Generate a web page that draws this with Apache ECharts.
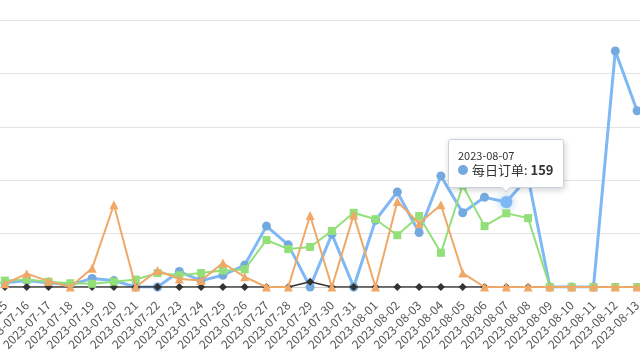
<!DOCTYPE html>
<html>
<head>
<meta charset="utf-8">
<script src="https://cdn.jsdelivr.net/npm/echarts@6/dist/echarts.min.js"></script>
<style>
html,body{margin:0;padding:0;background:#fff;}
#main{width:640px;height:360px;}
</style>
</head>
<body>
<div id="main"></div>
<script>
var categories = ['2023-07-15','2023-07-16','2023-07-17','2023-07-18','2023-07-19','2023-07-20','2023-07-21','2023-07-22','2023-07-23','2023-07-24','2023-07-25','2023-07-26','2023-07-27','2023-07-28','2023-07-29','2023-07-30','2023-07-31','2023-08-01','2023-08-02','2023-08-03','2023-08-04','2023-08-05','2023-08-06','2023-08-07','2023-08-08','2023-08-09','2023-08-10','2023-08-11','2023-08-12','2023-08-13'];
var dailyOrders = [8,12,8,4,16,12,0,0,29,12,22,41,114,79,0,99,0,125,178,102,208,139,168,159,205,0,0,0,442,330];
var seriesGreen = [12,14,10,7,6,10,14,26,22,26,31,33,88,71,75,105,139,127,97,133,64,190,114,138,129,0,0,0,0,0];
var seriesOrange = [6,25,11,0,35,154,0,31,15,12,45,19,0,0,134,0,135,0,160,119,154,26,0,0,0,0,0,0,0,0];
var seriesBlack = [0,0,0,0,0,0,0,0,0,0,0,0,0,0,10,0,0,0,0,0,0,0,0,0,0,0,0,0,0,0];
var yTicks = [0,100,200,300,400,500];

var chart = echarts.init(document.getElementById('main'));
var font = "'Noto Sans CJK SC', 'Noto Sans', sans-serif";
chart.setOption({
  animation: false,
  textStyle: {fontFamily: font},
  grid: {left: -6, right: -8, top: 20, bottom: 73, containLabel: false, outerBoundsMode: 'none'},
  tooltip: {
    trigger: 'item',
    position: 'top',
    backgroundColor: 'rgba(255,255,255,0.96)',
    borderColor: '#c9d3de',
    borderWidth: 1,
    padding: [8, 9, 9, 9],
    extraCssText: 'box-shadow:1px 2px 6px rgba(0,0,0,0.18);border-radius:3px;',
    formatter: function (p) {
      return '<div style="font-size:11px;line-height:14px;color:#333;font-family:' + font.replace(/'/g, '') + '">' + p.name + '</div>' +
        '<div style="font-size:13px;line-height:16px;color:#333;font-family:' + font.replace(/'/g, '') + '">' + p.marker + p.seriesName + ': <b>' + p.value + '</b></div>';
    }
  },
  xAxis: {
    type: 'category',
    data: categories,
    boundaryGap: true,
    axisLine: {lineStyle: {color: '#cccccc'}},
    axisTick: {length: 6, lineStyle: {color: '#d6d6d6'}},
    axisLabel: {interval: 0, rotate: 45, fontSize: 12, color: '#555', margin: 16, fontFamily: font}
  },
  yAxis: {
    type: 'value',
    min: yTicks[0],
    max: yTicks[yTicks.length - 1],
    interval: 100,
    axisLine: {show: false},
    axisTick: {show: false},
    axisLabel: {show: false},
    splitLine: {lineStyle: {color: '#e4e4e4'}}
  },
  series: [
    {
      name: '每日订单', type: 'line', data: dailyOrders,
      symbol: 'circle', symbolSize: 9,
      lineStyle: {width: 3, color: '#74a9df'},
      itemStyle: {color: '#74a9df'},
      emphasis: {scale: 1.35, itemStyle: {shadowBlur: 8, shadowColor: 'rgba(116,169,223,0.7)'}},
      z: 2
    },
    {
      name: '每日退款', type: 'line', data: seriesBlack,
      symbol: 'diamond', symbolSize: 8,
      lineStyle: {width: 1.5, color: '#333'},
      itemStyle: {color: '#333'},
      z: 3
    },
    {
      name: '每日访客', type: 'line', data: seriesGreen,
      symbol: 'rect', symbolSize: 8,
      lineStyle: {width: 2, color: '#93e07a'},
      itemStyle: {color: '#93e07a'},
      z: 4
    },
    {
      name: '每日咨询', type: 'line', data: seriesOrange,
      symbol: 'triangle', symbolSize: 9,
      lineStyle: {width: 2, color: '#f0a868'},
      itemStyle: {color: '#f0a868'},
      z: 5
    }
  ]
});
chart.dispatchAction({type: 'highlight', seriesIndex: 0, dataIndex: 23});
chart.dispatchAction({type: 'showTip', seriesIndex: 0, dataIndex: 23});
</script>
</body>
</html>
